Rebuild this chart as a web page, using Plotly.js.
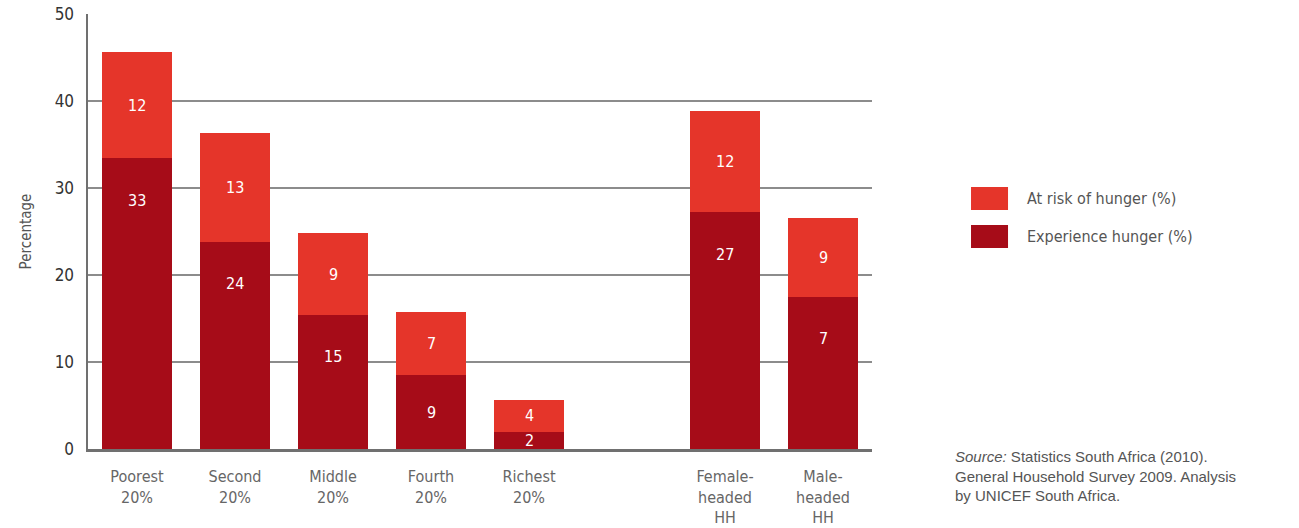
<!DOCTYPE html>
<html>
<head>
<meta charset="utf-8">
<script src="https://cdn.plot.ly/plotly-3.0.1.min.js"></script>
<style>html,body{margin:0;padding:0;background:#fff;}#chart{width:1299px;height:528px;}</style>
</head>
<body>
<div id="chart"></div>
<script>
// Categories (a blank slot separates the quintiles from household types)
const categories = ['Poorest<br>20%', 'Second<br>20%', 'Middle<br>20%', 'Fourth<br>20%', 'Richest<br>20%', ' ', 'Female-<br>headed<br>HH', 'Male-<br>headed<br>HH'];
// Bar heights as drawn (percent)
const experienceHunger = [33.4, 23.8, 15.4, 8.5, 1.95, null, 27.2, 17.5];
const atRiskHunger = [12.2, 12.5, 9.4, 7.2, 3.7, null, 11.7, 9.1];
// Labels printed on the bars
const experienceLabels = ['33', '24', '15', '9', '2', '', '27', '7'];
const atRiskLabels = ['12', '13', '9', '7', '4', '', '12', '9'];
const yTicks = [0, 10, 20, 30, 40, 50];

const cRisk = '#e5352a';
const cExp = '#a60c18';
const condensed = '"Liberation Sans Narrow", "DejaVu Sans Condensed", "Roboto Condensed", Roboto, sans-serif';

const traces = [
  {type: 'bar', name: 'Experience hunger (%)', x: categories, y: experienceHunger,
   marker: {color: cExp}, hoverinfo: 'skip', showlegend: false},
  {type: 'bar', name: 'At risk of hunger (%)', x: categories, y: atRiskHunger,
   marker: {color: cRisk}, hoverinfo: 'skip', showlegend: false}
];

const annotations = [];
categories.forEach((c, i) => {
  if (experienceHunger[i] == null) return;
  const e = experienceHunger[i], r = atRiskHunger[i];
  annotations.push({x: c, y: Math.max(e - 4.8, e / 2), xref: 'x', yref: 'y', text: experienceLabels[i],
    showarrow: false, font: {family: condensed, size: 16, color: '#fff'}});
  annotations.push({x: c, y: e + r / 2, xref: 'x', yref: 'y', text: atRiskLabels[i],
    showarrow: false, font: {family: condensed, size: 16, color: '#fff'}});
});

// Custom legend
const legendItems = [{name: 'At risk of hunger (%)', color: cRisk}, {name: 'Experience hunger (%)', color: cExp}];
const shapes = [];
legendItems.forEach((it, k) => {
  const yTop = 0.6023 - k * 0.0874;
  shapes.push({type: 'rect', xref: 'paper', yref: 'paper', x0: 1.1263, x1: 1.1735, y0: yTop - 0.0529, y1: yTop,
    fillcolor: it.color, line: {width: 0}});
  annotations.push({xref: 'paper', yref: 'paper', x: 1.1952, y: yTop - 0.0265, xanchor: 'left', yanchor: 'middle',
    text: it.name, showarrow: false, font: {family: condensed, size: 16, color: '#555'}});
});

annotations.push({xref: 'paper', yref: 'paper', x: 1.1035, y: 0.006, xanchor: 'left', yanchor: 'top', align: 'left',
  text: '<i>Source:</i> Statistics South Africa (2010).<br>General Household Survey 2009. Analysis<br>by UNICEF South Africa.',
  showarrow: false, font: {family: '"Liberation Sans", Arial, sans-serif', size: 15, color: '#555'}});

const layout = {
  width: 1299, height: 528,
  margin: {l: 88, r: 427, t: 14, b: 79},
  paper_bgcolor: '#fff', plot_bgcolor: '#fff',
  barmode: 'stack', bargap: 0.286,
  font: {family: condensed, color: '#333'},
  xaxis: {type: 'category', showgrid: false, showline: true, linecolor: '#707070', linewidth: 2.5,
    ticks: '', tickfont: {family: condensed, size: 16, color: '#666'}, ticklabelstandoff: 11,
    zeroline: false, fixedrange: true},
  yaxis: {range: [0, 50], tickvals: yTicks, showgrid: true, gridcolor: '#8c8c8c', gridwidth: 1.5,
    showline: true, linecolor: '#707070', linewidth: 2.5, zeroline: false, ticks: '',
    ticklabelstandoff: 8, tickfont: {family: condensed, size: 17, color: '#333'},
    title: {text: 'Percentage', standoff: 20, font: {family: condensed, size: 15, color: '#555'}}},
  shapes: shapes,
  annotations: annotations,
  showlegend: false
};

Plotly.newPlot('chart', traces, layout, {displayModeBar: false, staticPlot: true});
</script>
</body>
</html>
